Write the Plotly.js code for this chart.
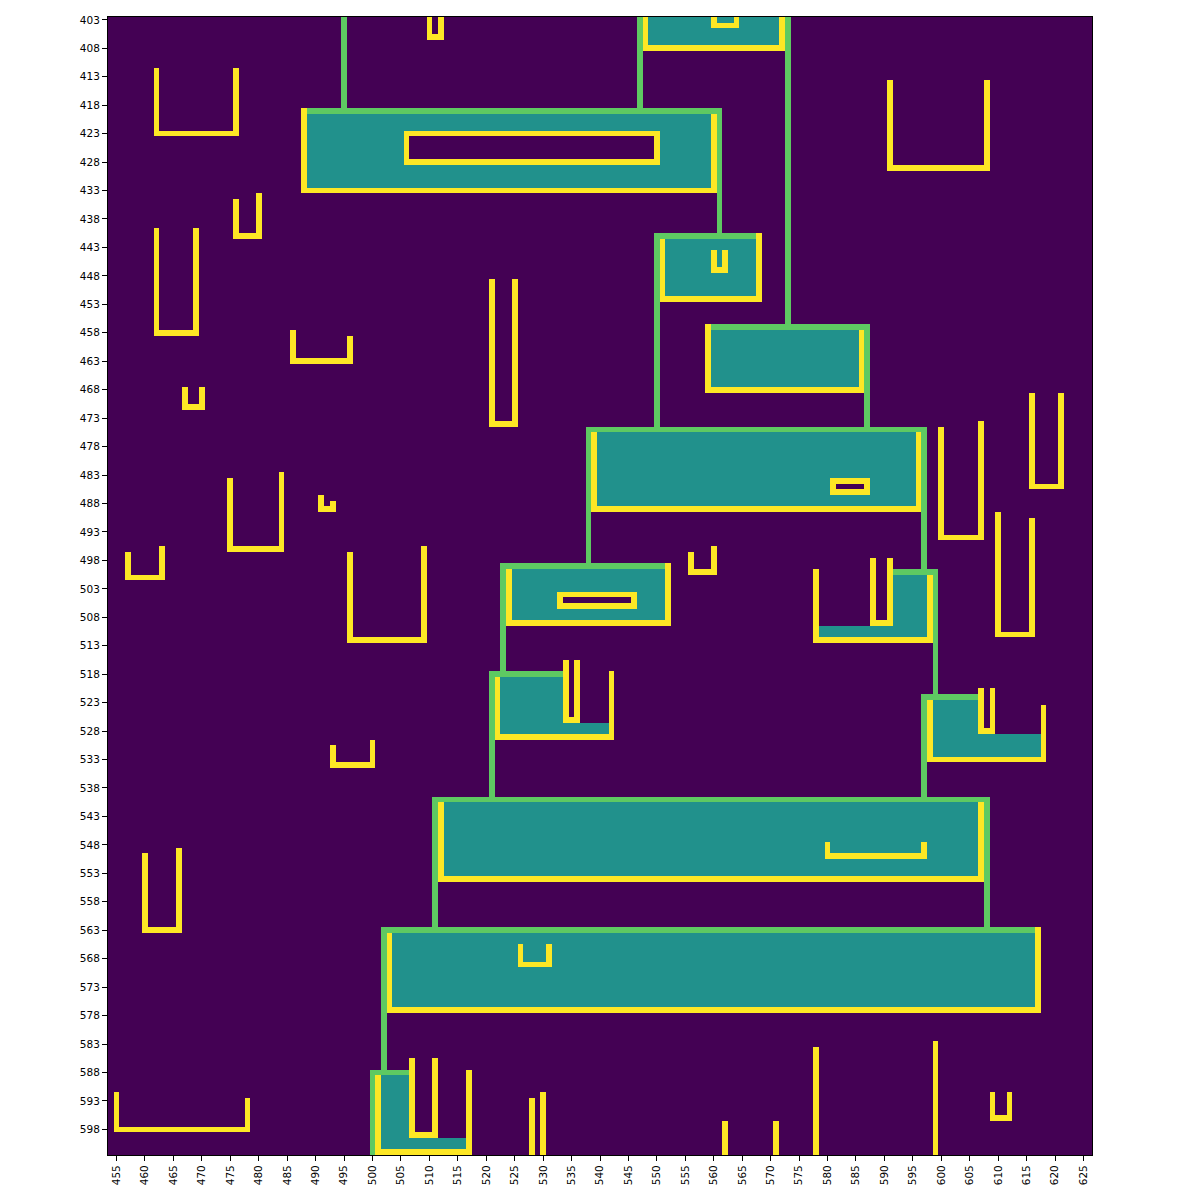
<!DOCTYPE html>
<html><head><meta charset="utf-8">
<script src="https://cdn.plot.ly/plotly-3.0.1.min.js"></script>
<style>body{margin:0;background:#fff}</style>
</head><body><div id="chart" style="width:1200px;height:1200px"></div>
<script>
// grid extent (cell coordinates)
const xFirst = 454, xLast = 626, yFirst = 403, yLast = 602;
const xTickVals = [455,460,465,470,475,480,485,490,495,500,505,510,515,520,525,530,535,540,545,550,555,560,565,570,575,580,585,590,595,600,605,610,615,620,625];
const yTickVals = [403,408,413,418,423,428,433,438,443,448,453,458,463,468,473,478,483,488,493,498,503,508,513,518,523,528,533,538,543,548,553,558,563,568,573,578,583,588,593,598];

// cell classes: 0 background, 1 region fill, 2 link/outline, 3 contour
// filled regions [x0, x1, y0, y1]
const fillRects = [
  [549,571,403,407],[489,559,420,432],[552,567,442,451],[560,585,458,467],
  [540,595,476,488],[525,551,500,508],[523,533,519,528],[534,541,527,528],
  [592,597,501,511],[579,591,510,511],[599,606,523,532],[607,617,529,532],
  [513,606,541,553],[504,616,564,576],[502,506,589,601],[507,516,600,601],
  [561,563,403,403]
];
// closed contours (outline value 3, inside cleared) [x0, x1, y0, y1]
const closedContours = [[506,550,423,428],[581,587,484,486],[533,546,504,506]];
// open-top contours [xLeft, xRight, yTopLeft, yTopRight, yBottom]
const openContours = [
  [462,476,412,412,423],[510,512,403,403,406],[591,608,414,414,429],[476,480,435,434,441],
  [462,469,440,440,458],[521,525,449,449,474],[486,496,458,459,463],[467,470,468,468,471],
  [475,484,484,483,496],[491,493,487,488,489],[457,463,497,496,501],[496,509,497,496,512],
  [556,560,497,496,500],[600,607,475,474,494],[616,621,469,469,485],[610,616,490,491,511],
  [493,500,531,530,534],[460,466,550,549,563],[455,478,592,593,598],[609,612,592,592,596],
  [560,564,403,403,404],[560,562,444,444,447],[534,536,516,516,526],[588,591,498,498,509],
  [607,609,521,521,528],[580,597,548,548,550],[526,531,566,566,569],[507,511,586,586,599],
  [548,572,403,403,408],[488,560,419,420,433],[551,568,442,441,452],[559,586,457,458,468],
  [539,596,476,476,489],[524,552,500,499,509],[522,542,519,518,529],[578,598,500,501,512],
  [598,618,523,524,533],[512,607,541,541,554],[503,617,564,563,577],[501,517,589,588,602]
];
// single contour bars [x, yTop, yBottom]
const contourBars = [[528,593,602],[530,592,602],[562,597,602],[571,597,602],[578,584,602],[599,583,602]];
// link lines [x0, x1, y0, y1]
const linkSegs = [
  [495,495,403,418],[547,547,403,418],[573,573,403,456],[561,561,419,440],
  [550,550,441,474],[587,587,457,474],[538,538,475,498],[597,597,475,499],
  [523,523,499,517],[599,599,500,521],[521,521,518,539],[597,597,522,539],
  [511,511,540,562],[608,608,540,562],[502,502,563,587],[500,500,588,602],
  [489,561,419,419],[550,567,441,441],[560,587,457,457],[538,597,475,475],
  [523,551,499,499],[521,533,518,518],[592,599,500,500],[597,606,522,522],
  [511,608,540,540],[502,616,563,563],[500,506,588,588]
];

// build the matrix from the lists above
const xs = [], ys = [];
for (let x = xFirst; x <= xLast; x++) xs.push(x);
for (let y = yFirst; y <= yLast; y++) ys.push(y);
const z = ys.map(() => xs.map(() => 0));
function paint(x0, x1, y0, y1, v) {
  for (let y = Math.min(y0,y1); y <= Math.max(y0,y1); y++)
    for (let x = Math.min(x0,x1); x <= Math.max(x0,x1); x++)
      if (y >= yFirst && y <= yLast && x >= xFirst && x <= xLast) z[y - yFirst][x - xFirst] = v;
}
fillRects.forEach(r => paint(r[0], r[1], r[2], r[3], 1));
closedContours.forEach(r => paint(r[0], r[1], r[2], r[3], 0));
linkSegs.forEach(s => paint(s[0], s[1], s[2], s[3], 2));
closedContours.forEach(r => {
  paint(r[0], r[1], r[2], r[2], 3); paint(r[0], r[1], r[3], r[3], 3);
  paint(r[0], r[0], r[2], r[3], 3); paint(r[1], r[1], r[2], r[3], 3);
  paint(r[0] + 1, r[1] - 1, r[2] + 1, r[3] - 1, 0);
});
openContours.forEach(u => {
  paint(u[0], u[0], u[2], u[4], 3); paint(u[1], u[1], u[3], u[4], 3); paint(u[0], u[1], u[4], u[4], 3);
});
contourBars.forEach(b => paint(b[0], b[0], b[1], b[2], 3));

const axisCommon = {
  showgrid: false, zeroline: false, showline: true, mirror: true,
  linecolor: '#000', linewidth: 1, ticks: 'outside', ticklen: 5, tickwidth: 1, tickcolor: '#000',
  tickfont: {family: 'DejaVu Sans', size: 10.5, color: '#000'}, fixedrange: true
};
const trace = {
  type: 'heatmap', x: xs, y: ys, z: z, zmin: 0, zmax: 3, showscale: false, hoverinfo: 'skip',
  colorscale: [[0, '#440154'], [0.3333, '#21918c'], [0.6667, '#5ec962'], [1, '#fde725']]
};
const layout = {
  width: 1200, height: 1200,
  margin: {l: 107.6, r: 108, t: 17.3, b: 45.3, pad: 0},
  paper_bgcolor: '#fff', plot_bgcolor: '#fff',
  xaxis: Object.assign({}, axisCommon, {range: [xFirst - 0.5, xLast + 0.5], tickmode: 'array', tickvals: xTickVals, ticktext: xTickVals.map(String), tickangle: -90}),
  yaxis: Object.assign({}, axisCommon, {range: [yLast + 0.5, yFirst - 0.5], tickmode: 'array', tickvals: yTickVals, ticktext: yTickVals.map(String)}),
  showlegend: false
};
Plotly.newPlot('chart', [trace], layout, {displayModeBar: false, staticPlot: true});
</script></body></html>
